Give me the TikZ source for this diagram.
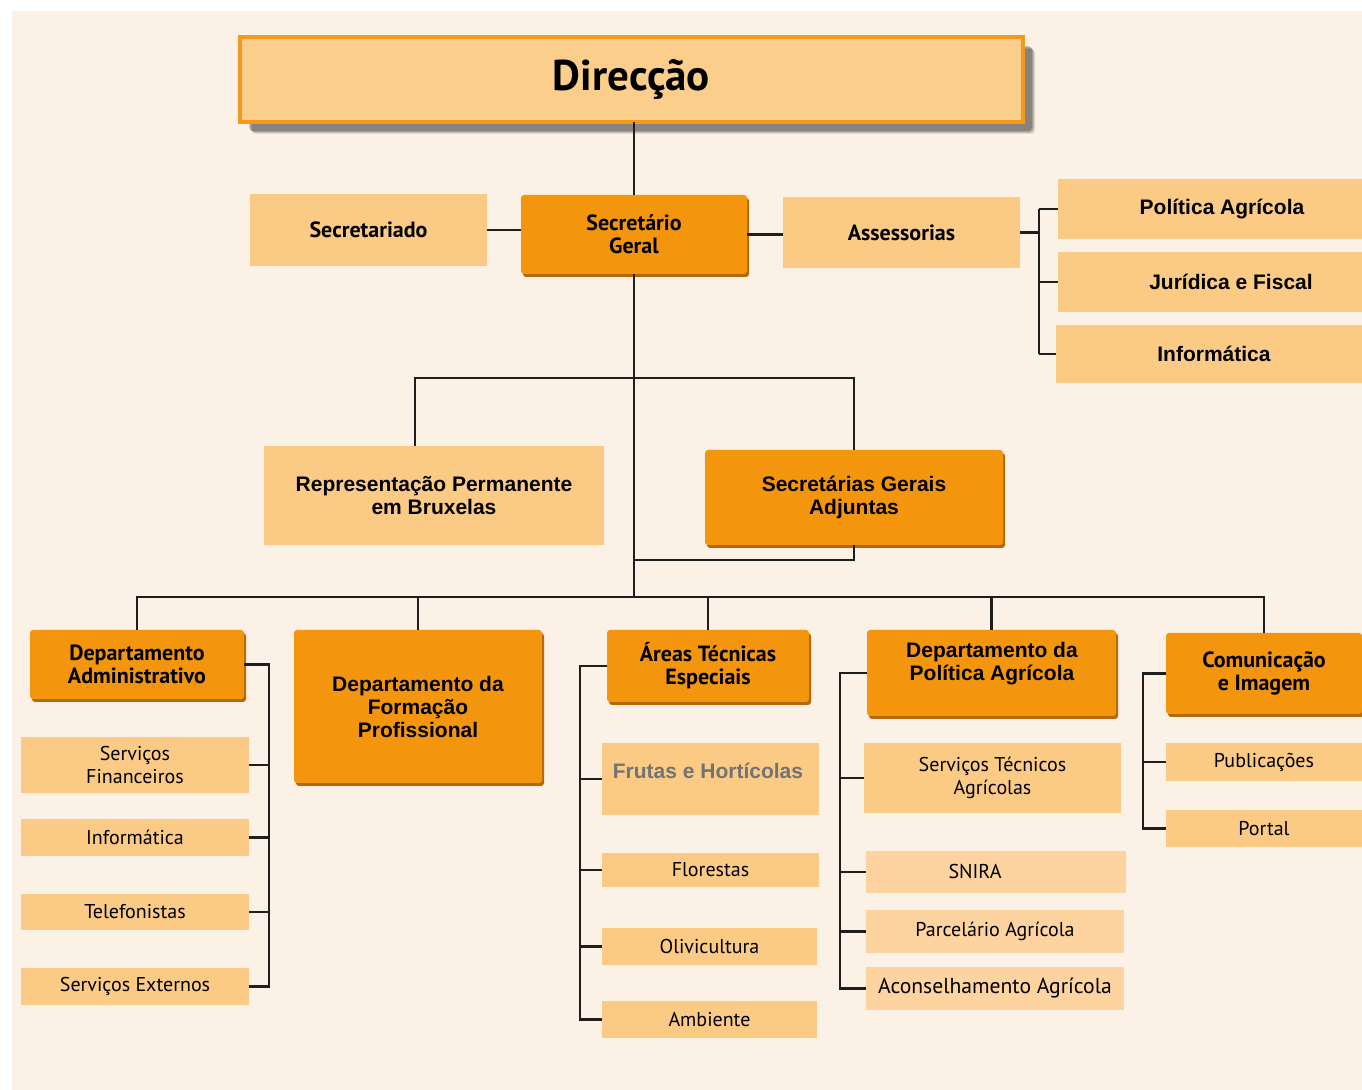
\documentclass[tikz,border=0pt]{standalone}
\usepackage{fontspec}
\setmainfont{Liberation Sans}
\newfontfamily\ptsans{PT Sans}
\usetikzlibrary{shadows}
\definecolor{bgc}{HTML}{FBF1E7}
\definecolor{lightc}{HTML}{FBCB85}
\definecolor{lighterc}{HTML}{FDD3A0}
\definecolor{orngc}{HTML}{F4950E}
\definecolor{brownc}{HTML}{B5670A}
\definecolor{dirfill}{HTML}{FBCE8B}
\definecolor{dirline}{HTML}{F39A1C}
\definecolor{linec}{HTML}{1E1E1E}
\tikzset{
  basebox/.style={inner sep=0pt, outer sep=0pt, align=center},
  lbox/.style={basebox, fill=lightc, font=\ptsans\fontsize{10}{11.5}\selectfont},
  lrbox/.style={basebox, fill=lighterc, font=\ptsans\fontsize{10}{11.5}\selectfont},
  obox/.style={basebox, fill=orngc, rounded corners=1.5pt,
    drop shadow={shadow xshift=1pt, shadow yshift=-1.5pt, fill=brownc, opacity=1}},
  hb/.style={font=\ptsans\bfseries\fontsize{11}{11.5}\selectfont},
  ha/.style={font=\bfseries\fontsize{10.5}{11.5}\selectfont},
  conn/.style={draw=linec, line width=1.2pt},
}
% \mkbox{name}{style}{x1}{y1}{x2}{y2}{text}
\newcommand\mkbox[7]{%
  \node[#2, minimum width={(#5-#3)*0.5pt}, minimum height={(#6-#4)*0.5pt}]
    (#1) at ({(#3+#5)/2},{(#4+#6)/2}) {#7};}
\begin{document}
\begin{tikzpicture}[x=0.5pt,y=-0.5pt]
\useasboundingbox (0,0) rectangle (1362,1090);
\fill[bgc] (12,11) rectangle (1362,1090);

% soft shadow of the top box
\foreach \s/\o in {6/0.10,5/0.12,4/0.15,3/0.18}
  \fill[black, opacity=\o, rounded corners=2pt] (246+\s,43+\s) rectangle (1029+\s,128+\s);

\mkbox{dir}{basebox, fill=dirfill, draw=dirline, line width=2pt,
  font=\ptsans\bfseries\fontsize{21.5}{24}\selectfont}{240}{37}{1023}{122}{Direcção}

\mkbox{secr}{lbox, hb}{250}{194}{487}{266}{Secretariado}
\mkbox{sg}{obox, hb}{521}{195}{747}{274}{Secretário\\Geral}
\mkbox{ass}{lbox, hb}{783}{197}{1020}{268}{Assessorias}

\mkbox{pa}{lbox, ha}{1058}{179}{1362}{239}{\hspace*{12pt}Política Agrícola}
\mkbox{jf}{lbox, ha}{1058}{252}{1362}{312}{\hspace*{21pt}Jurídica e Fiscal}
\mkbox{inf1}{lbox, ha}{1056}{325}{1362}{383}{\hspace*{5pt}Informática}

\mkbox{rep}{lbox, ha}{264}{446}{604}{545}{Representação Permanente\\em Bruxelas}
\mkbox{sga}{obox, ha}{705}{450}{1003}{545}{Secretárias Gerais\\Adjuntas}

% departments
\mkbox{da}{obox, hb}{30}{630}{244}{699}{Departamento\\Administrativo}
\mkbox{sf}{lbox}{21}{737}{249}{793}{Serviços\\Financeiros}
\mkbox{inf2}{lbox}{21}{819}{249}{856}{Informática}
\mkbox{tel}{lbox}{21}{894}{249}{930}{Telefonistas}
\mkbox{se}{lbox}{21}{968}{249}{1005}{Serviços Externos}

\mkbox{dfp}{obox, ha}{294}{630}{542}{783}{Departamento da\\Formação\\Profissional}

\mkbox{ate}{obox, hb}{607}{630}{809}{702}{Áreas Técnicas\\Especiais}
\mkbox{fh}{lbox}{602}{743}{819}{815}{}
\node[ha, text=black!55, inner sep=0pt] (fhtext) at (708,771) {Frutas e Hortícolas};
\mkbox{flo}{lbox}{602}{853}{819}{887}{Florestas}
\mkbox{oli}{lbox}{602}{928}{817}{965}{Olivicultura}
\mkbox{amb}{lbox}{602}{1001}{817}{1038}{Ambiente}

\mkbox{dpa}{obox}{867}{630}{1116}{716}{}
\node[ha, align=center, inner sep=0pt] (dpatext) at (992,664) {Departamento da\\Política Agrícola};
\mkbox{stag}{lbox}{864}{743}{1121}{813}{Serviços Técnicos\\Agrícolas}
\mkbox{snira}{lrbox}{866}{851}{1126}{893}{SNIRA\hspace*{21pt}}
\mkbox{parc}{lrbox}{866}{910}{1124}{953}{Parcelário Agrícola}
\mkbox{acon}{lrbox, font=\ptsans\fontsize{10.8}{12}\selectfont}{866}{967}{1124}{1010}{Aconselhamento Agrícola}

\mkbox{ci}{obox, hb}{1166}{633}{1362}{714}{Comunicação\\e Imagem}
\mkbox{pub}{lbox}{1166}{743}{1362}{781}{Publicações}
\mkbox{por}{lbox}{1166}{810}{1362}{847}{Portal}

% connector points
\coordinate (bus) at (635,597);
\coordinate (repin) at (415,378);
\coordinate (sgj) at (635,560);
\coordinate (asp) at (1039,231);
\coordinate (dasp) at (269,670);
\coordinate (atsp) at (580,670);
\coordinate (dpsp) at (840,670);
\coordinate (cisp) at (1143,672);

% connectors
\draw[conn] (sg.north) -- (sg.north |- dir.south);
\draw[conn] (secr.east) -- (secr.east -| sg.west);
\draw[conn] (sg.east) -- (sg.east -| ass.west);
\draw[conn] (sg.south) -- (sg.south |- bus);
\draw[conn] (repin |- rep.north) -- (repin) -- (repin -| sga.north) -- (sga.north);
\draw[conn] (sga.south) |- (sgj);

\draw[conn] (ass.east) -- (ass.east -| asp);
\draw[conn] (asp |- pa.west) -- (asp |- inf1.west);
\draw[conn] (asp |- pa.west) -- (pa.west);
\draw[conn] (asp |- jf.west) -- (jf.west);
\draw[conn] (asp |- inf1.west) -- (inf1.west);

\draw[conn] (da.north) |- (ci.north |- bus) -- (ci.north);
\draw[conn] (dfp.north) -- (dfp.north |- bus);
\draw[conn] (ate.north) -- (ate.north |- bus);
\draw[conn] (dpa.north) -- (dpa.north |- bus);

\draw[conn] (da.east) -| (dasp |- se.east) -- (se.east);
\draw[conn] (dasp |- sf.east) -- (sf.east);
\draw[conn] (dasp |- inf2.east) -- (inf2.east);
\draw[conn] (dasp |- tel.east) -- (tel.east);

\draw[conn] (ate.west) -| (atsp |- amb.west) -- (amb.west);
\draw[conn] (atsp |- fh.west) -- (fh.west);
\draw[conn] (atsp |- flo.west) -- (flo.west);
\draw[conn] (atsp |- oli.west) -- (oli.west);

\draw[conn] (dpa.west) -| (dpsp |- acon.west) -- (acon.west);
\draw[conn] (dpsp |- stag.west) -- (stag.west);
\draw[conn] (dpsp |- snira.west) -- (snira.west);
\draw[conn] (dpsp |- parc.west) -- (parc.west);

\draw[conn] (ci.west) -| (cisp |- por.west) -- (por.west);
\draw[conn] (cisp |- pub.west) -- (pub.west);
\end{tikzpicture}
\end{document}
